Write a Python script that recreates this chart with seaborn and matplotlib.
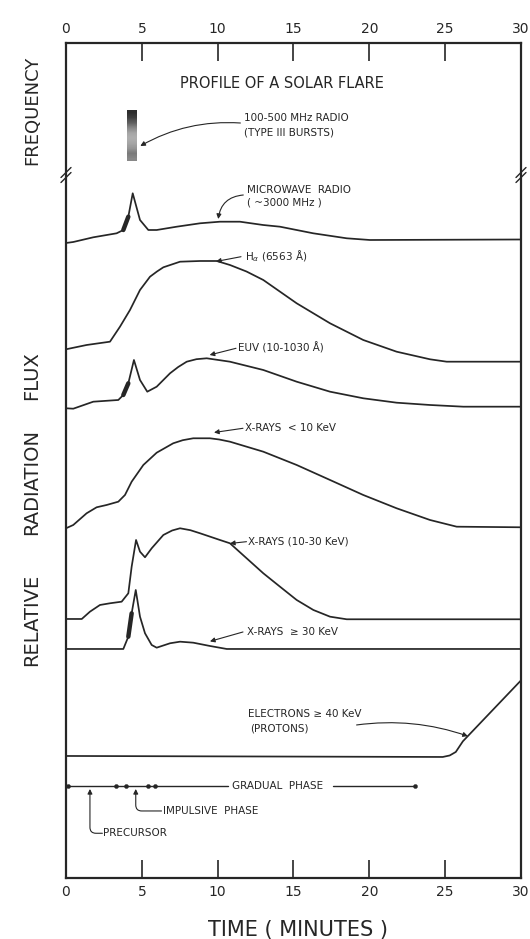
import numpy as np
import pandas as pd
import matplotlib
matplotlib.use("Agg")
import matplotlib.pyplot as plt
import seaborn as sns

# ---------------------------------------------------------------------------
# Data: time in minutes, flux profiles stacked on one panel (arbitrary units)
# ---------------------------------------------------------------------------
time_ticks = [0, 5, 10, 15, 20, 25, 30]

microwave_t = [0, 0.48, 1.80, 3.34, 3.78, 4.11, 4.40, 4.88, 5.43, 5.98, 7.30,
               8.84, 10.15, 11.47, 13.0, 14.11, 16.30, 18.51, 20.04, 30]
microwave_f = [635, 636, 640.7, 644.7, 648, 661.3, 684.7, 658, 648, 648, 651.3,
               654.7, 656.3, 656.3, 653, 651.3, 644.7, 639.7, 638, 638.5]

halpha_t = [0, 1.36, 2.90, 3.56, 4.22, 4.88, 5.54, 6.0, 6.42, 7.52, 8.84, 9.94,
            10.81, 11.9, 13.01, 15.21, 17.41, 19.60, 21.80, 24.0, 25.10, 30]
halpha_f = [528.7, 533, 536.3, 551.3, 568, 588, 601.3, 606.5, 610.7, 616.3,
            617, 617, 613, 606.5, 598, 574.7, 554.7, 538, 526.3, 518.7, 516.3,
            516.3]

euv_t = [0, 0.48, 1.80, 3.45, 3.78, 4.11, 4.48, 4.88, 5.36, 5.98, 6.86, 7.4,
         7.96, 8.6, 9.28, 10.81, 13.01, 15.21, 17.41, 19.60, 21.80, 24.0, 26.2,
         30]
euv_f = [469.7, 469.3, 476.3, 478, 483, 494.7, 518, 498, 486.3, 491.3, 504.7,
         511, 516.3, 518.8, 519.7, 516.3, 508, 496.3, 486.3, 479.7, 475.3, 473,
         471.3, 471.3]

xsoft_t = [0, 0.48, 1.36, 2.02, 2.68, 3.45, 3.89, 4.33, 5.10, 5.98, 7.07, 7.7,
           8.39, 9.49, 10.1, 10.81, 13.01, 15.21, 17.41, 19.60, 21.80, 24.0,
           25.76, 30]
xsoft_f = [349.7, 353, 364.7, 370.7, 373, 376.3, 383, 396.3, 413, 425.3, 434.7,
           437.8, 439.7, 439.7, 438.5, 436.3, 426.3, 413, 398, 383, 369.7, 358,
           351.3, 350.7]

xmid_t = [0, 1.04, 1.58, 2.24, 2.90, 3.67, 4.11, 4.33, 4.62, 4.88, 5.21, 5.65,
          6.42, 7.0, 7.52, 8.2, 8.84, 10.15, 10.81, 11.91, 13.01, 14.11, 15.21,
          16.31, 17.41, 18.51, 30]
xmid_f = [259, 259, 266.3, 273, 274.7, 276.3, 284.7, 311.3, 338, 326.3, 320.7,
          329.7, 343, 347.5, 349.7, 347.8, 344.7, 338, 334.7, 319.7, 304.7,
          291.3, 278, 268, 261.3, 258.7, 258.7]

xhard_t = [0, 3.78, 4.11, 4.33, 4.60, 4.88, 5.21, 5.65, 5.98, 6.86, 7.52, 8.39,
           9.49, 10.6, 30]
xhard_f = [229, 229, 241.3, 264.7, 288, 261.3, 244.7, 233, 230.3, 234.7, 236.3,
           235.3, 232, 229, 229]

electron_t = [0, 24.84, 25.3, 25.7, 26.17, 30]
electron_f = [122, 121, 122.5, 126, 136.7, 197.6]

# Type III radio burst: time span, frequency band and shading (top to bottom)
burst_t = [4.05, 4.68]
burst_band = [717.4, 768.1]
burst_shade = [0.85, 0.8, 0.7, 0.55, 0.45, 0.42, 0.45, 0.5, 0.6, 0.55]

# Flare phases along the bottom time line
phase_level = 92
phase_marks = [0.15, 3.3, 3.96, 5.39, 5.87, 23.0]
phase_line_segments = [(0, 10.68), (17.6, 23.0)]

INK = "#262626"

sns.set_style("white")
plt.rcParams["font.family"] = ["DejaVu Sans"]

fig = plt.figure(figsize=(5.3, 9.39), dpi=100)
ax = fig.add_axes([0.1245, 0.065, 0.8585, 0.8892])

series = [
    (microwave_t, microwave_f),
    (halpha_t, halpha_f),
    (euv_t, euv_f),
    (xsoft_t, xsoft_f),
    (xmid_t, xmid_f),
    (xhard_t, xhard_f),
    (electron_t, electron_f),
]
for t, f in series:
    sns.lineplot(x=t, y=f, ax=ax, color=INK, lw=1.25, estimator=None,
                 sort=False, legend=False)

# inked leading edges of the impulsive spikes
for t, f, lo, hi in [(microwave_t, microwave_f, 3.78, 4.11),
                     (euv_t, euv_f, 3.78, 4.11),
                     (xhard_t, xhard_f, 4.11, 4.33)]:
    tt = np.array(t)
    ff = np.array(f)
    m = (tt >= lo) & (tt <= hi)
    ax.plot(tt[m], ff[m], color=INK, lw=3.2, solid_capstyle="round")

# radio burst bar
shade = np.array(burst_shade)[:, None]
ax.imshow(shade, cmap="Greys", vmin=0, vmax=1, aspect="auto",
          extent=(burst_t[0], burst_t[1], burst_band[0], burst_band[1]),
          origin="upper", interpolation="bilinear", zorder=3)

# phase time line
for a, b in phase_line_segments:
    ax.plot([a, b], [phase_level, phase_level], color=INK, lw=1.0)
sns.scatterplot(x=phase_marks, y=[phase_level] * len(phase_marks), ax=ax,
                color=INK, s=9, marker="o", edgecolor=INK, legend=False,
                zorder=4)

txt = dict(color=INK, fontsize=7.5, va="center", ha="left")
arrow = dict(arrowstyle="-|>", color=INK, lw=0.8, mutation_scale=7,
             shrinkA=0, shrinkB=0)

def callout(head, tail, conn="arc3,rad=0"):
    ax.annotate("", xy=head, xytext=tail,
                arrowprops=dict(arrow, connectionstyle=conn))

ax.text(14.24, 795, "PROFILE OF A SOLAR FLARE", color=INK, fontsize=10.5,
        ha="center", va="center")

ax.text(11.74, 759.7, "100-500 MHz RADIO", **txt)
ax.text(11.74, 745.2, "(TYPE III BURSTS)", **txt)
callout((4.9, 732), (11.5, 755), "arc3,rad=0.15")

ax.text(11.91, 688, "MICROWAVE  RADIO", **txt)
ax.text(11.91, 675, "( ~3000 MHz )", **txt)
callout((10.04, 659), (11.69, 683), "arc3,rad=0.4")

ax.text(11.80, 621.3, r"H$_{\alpha}$ (6563 Å)", **txt)
callout((9.89, 616.5), (11.54, 621.3))

ax.text(11.36, 529.7, "EUV (10-1030 Å)", **txt)
callout((9.47, 523), (11.21, 529.7))

ax.text(11.80, 449.7, "X-RAYS  < 10 KeV", **txt)
callout((9.76, 445.5), (11.67, 449.7))

ax.text(12.02, 336.3, "X-RAYS (10-30 KeV)", **txt)
callout((10.81, 334.5), (11.9, 336.3))

ax.text(11.91, 246.3, "X-RAYS  ≥ 30 KeV", **txt)
callout((9.49, 236.6), (11.67, 246))

ax.text(12.03, 163.8, "ELECTRONS ≥ 40 KeV", **txt)
ax.text(12.13, 149.6, "(PROTONS)", **txt)
callout((26.5, 141.8), (19.16, 153), "arc3,rad=-0.12")

ax.text(13.98, phase_level, "GRADUAL  PHASE", color=INK, fontsize=7.5,
        ha="center", va="center")
ax.text(6.42, 67, "IMPULSIVE  PHASE", **txt)
callout((4.6, phase_level - 3), (6.3, 67), "angle,angleA=0,angleB=90,rad=6")
ax.text(2.46, 44.7, "PRECURSOR", **txt)
callout((1.58, phase_level - 3), (2.4, 44.7), "angle,angleA=0,angleB=90,rad=6")

# axis break marks between the frequency and flux panels
for x0 in (0, 30):
    for dy in (-2.5, 2.5):
        ax.plot([x0 - 0.33, x0 + 0.33], [703 + dy - 5, 703 + dy + 5],
                color=INK, lw=1.0, clip_on=False, zorder=5)

ax.set_xlim(0, 30)
ax.set_ylim(0, 835)
ax.set_xticks(time_ticks)
ax.set_xticklabels([str(v) for v in time_ticks])
ax.set_yticks([])
ax.tick_params(axis="x", direction="in", length=13, width=1.2, color=INK,
               top=True, bottom=True, labeltop=True, labelbottom=True,
               labelsize=10, labelcolor=INK, pad=5)
for sp in ax.spines.values():
    sp.set_visible(True)
    sp.set_color(INK)
    sp.set_linewidth(1.6)

ax.set_xlabel("TIME ( MINUTES )", fontsize=15, color=INK)
ax.xaxis.set_label_coords(0.51, -0.0623)
ax.xaxis.label.set_va("center")
ax.set_ylabel("")

fig.text(0.06, 1 - 110 / 939, "FREQUENCY", rotation=90, fontsize=13,
         color=INK, ha="center", va="center")
for word, yc in [("RELATIVE", 620), ("RADIATION", 482), ("FLUX", 376)]:
    fig.text(0.06, 1 - yc / 939, word, rotation=90, fontsize=14,
             color=INK, ha="center", va="center")

fig.savefig("out.png", dpi=100, facecolor="white")
